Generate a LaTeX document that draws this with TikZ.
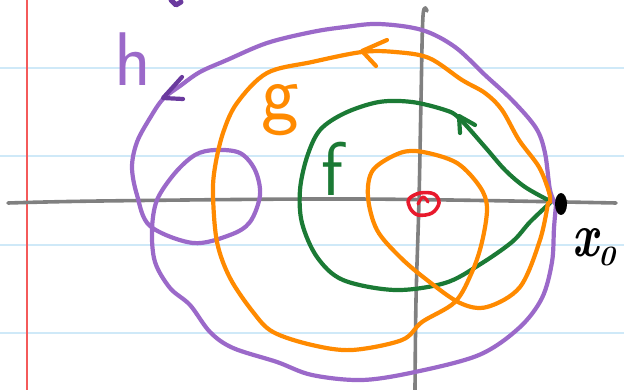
\documentclass[tikz,border=0pt]{standalone}
\usepackage{fontspec}
\usetikzlibrary{shapes.geometric}
\definecolor{hpurple}{HTML}{9B69C9}
\definecolor{arrowpurple}{HTML}{6A3A9E}
\definecolor{gorange}{HTML}{FF8A00}
\definecolor{fgreen}{HTML}{1B7A35}
\definecolor{axisgray}{HTML}{808080}
\definecolor{rulecol}{HTML}{CFE9F8}
\definecolor{margincol}{HTML}{F45A5A}
\definecolor{originred}{HTML}{E8192C}
\begin{document}
\begin{tikzpicture}[x=1pt,y=-1pt, line cap=round, line join=round,
  curve/.style={line width=4.2pt},
  ruled/.style={rulecol, line width=1.8pt},
  axisline/.style={axisgray, line width=3.6pt},
  arrowv/.style={line width=4.2pt},
  hand/.style={inner sep=0pt}]
\useasboundingbox[fill=white] (0,0) rectangle (624,390);
% notebook paper
\foreach \yy in {68,156,245,333} \draw[ruled] (0,\yy) -- (624,\yy);
\draw[margincol, line width=1.8pt] (27,0) -- (27,390);
% axes
\draw[axisline] plot[smooth, tension=0.6] coordinates {(8,203) (100,201) (312,199) (450,200) (616,203)};
\draw[axisline] plot[smooth, tension=0.6] coordinates {(427,11) (423,16) (421,100) (419,200) (416,300) (415,390)};
% f (green)
\draw[curve, fgreen] plot[smooth, tension=0.55] coordinates {(550,201) (525,187) (505,170) (485,147) (459,118) (445,110) (412,102) (379,102) (345,113) (320,130) (307,157) (300,190) (302,223) (317,257) (343,280) (395,290) (445,283) (479,265) (512,242) (530,222) (550,203)};
% h (purple)
\draw[curve, hpurple] plot[smooth, tension=0.55] coordinates {(556,205) (550,190) (545,153) (536,128) (512,100) (485,75) (455,47) (422,30) (379,24) (345,27) (312,32) (267,43) (227,60) (200,72) (180,86) (163,99) (150,118) (137,142) (132,167) (137,195) (150,226) (193,243) (230,235) (250,222) (260,195) (255,170) (240,153) (215,150) (195,155) (175,173) (157,200) (152,230) (155,262) (170,288) (190,305) (210,332) (233,348) (277,362) (312,375) (362,380) (415,372) (479,355) (519,328) (542,298) (552,262) (554,228) (556,205)};
% g (orange)
\draw[curve, gorange] plot[smooth, tension=0.55] coordinates {(550,202) (549,192) (539,167) (519,140) (502,110) (485,93) (462,80) (429,58) (395,52) (362,52) (312,62) (267,73) (237,103) (223,133) (215,167) (213,195) (217,242) (230,278) (253,312) (273,332) (312,345) (352,350) (402,340) (422,322) (455,302) (472,272) (482,242) (487,208) (480,187) (457,163) (423,152) (400,153) (373,170) (368,197) (377,230) (400,257) (427,280) (460,303) (487,307) (520,287) (540,240) (548,203)};
% arrowheads
\draw[arrowv, arrowpurple] (182,77) -- (163,98) -- (183,99);
\draw[arrowv, gorange] (387,40) -- (362,51) -- (376,66);
\draw[arrowv, fgreen] (475,125) -- (459,116) -- (460,133);
% top stray mark
\draw[arrowpurple, line width=5pt] (171,0) -- (176,5) -- (181,2);
% origin
\draw[originred, line width=3.6pt] plot[smooth cycle, tension=0.6] coordinates {(409,199) (420,193) (434,194) (439,203) (432,213) (418,215) (410,208)};
\draw[originred, line width=3.2pt] plot[smooth, tension=0.7] coordinates {(418,204) (423,197) (428,202)};
% x0 point
\node[ellipse, fill=black, minimum width=12pt, minimum height=22pt, inner sep=0pt] (x0) at (561,204) {};
% labels
\node[hand, text=hpurple, font={\sffamily\fontsize{76}{76}\selectfont}] (hlab) at (133,59) {h};
\node[hand, text=gorange, font={\sffamily\fontsize{80}{80}\selectfont}] (glab) at (280,110) {g};
\node[hand, text=fgreen, font={\sffamily\fontsize{76}{76}\selectfont}] (flab) at (332,169) {f};
\node[hand, text=black, anchor=base west, font={\bfseries\itshape\fontsize{62}{62}\selectfont}] (xlab) at (572,257) {\scalebox{0.75}[1]{x}\raisebox{-9pt}{\fontsize{28}{28}\selectfont 0}};
\end{tikzpicture}
\end{document}
